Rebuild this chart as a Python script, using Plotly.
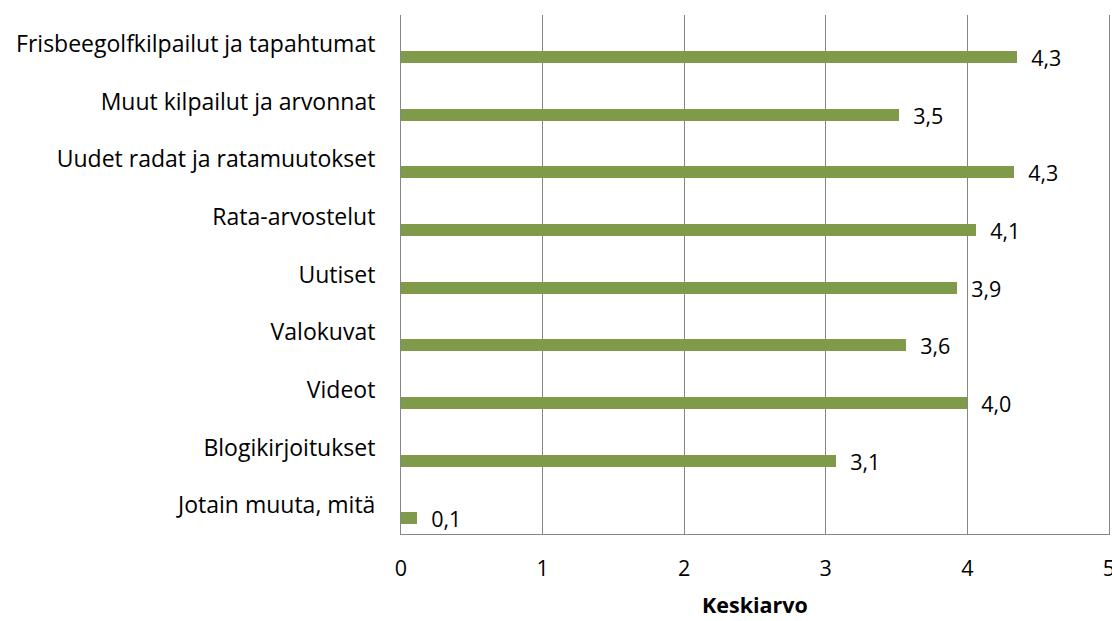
import plotly.graph_objects as go

# Categories, top to bottom as shown
categories = [
    "Frisbeegolfkilpailut ja tapahtumat",
    "Muut kilpailut ja arvonnat",
    "Uudet radat ja ratamuutokset",
    "Rata-arvostelut",
    "Uutiset",
    "Valokuvat",
    "Videot",
    "Blogikirjoitukset",
    "Jotain muuta, mitä",
]
means = [4.35, 3.52, 4.33, 4.06, 3.93, 3.57, 4.00, 3.07, 0.11]
x_ticks = [0, 1, 2, 3, 4, 5]

FONT = "Open Sans"
FONT_SIZE = 23
BAR_COLOR = "#7F9A48"
GRID_COLOR = "#868686"

fig = go.Figure()
fig.add_trace(go.Bar(
    x=means,
    y=categories,
    orientation="h",
    marker=dict(color=BAR_COLOR, line=dict(width=0)),
    width=0.21,
    offset=0.125,
    texttemplate="\u00a0\u00a0%{x:.1f}",
    textposition="outside",
    constraintext="none",
    textfont=dict(family=FONT, size=21.5, color="#000000"),
    cliponaxis=False,
    showlegend=False,
))

fig.update_layout(
    width=1112,
    height=621,
    separators=",.",
    plot_bgcolor="white",
    paper_bgcolor="white",
    font=dict(family=FONT, size=FONT_SIZE, color="#000000"),
    margin=dict(l=401, r=3, t=15, b=87),
    bargap=0,
)
fig.update_xaxes(
    range=[0, 5.001],
    tickvals=x_ticks,
    showgrid=True,
    gridcolor=GRID_COLOR,
    gridwidth=1,
    zeroline=False,
    showline=True,
    linecolor=GRID_COLOR,
    linewidth=1,
    ticks="",
    tickfont=dict(size=21.5),
    ticklabelstandoff=15,
    ticklabeloverflow="allow",
    automargin=False,
    title=dict(text="<b>Keskiarvo</b>", font=dict(family=FONT, size=21.5), standoff=17),
)
fig.update_yaxes(
    categoryorder="array",
    categoryarray=categories,
    range=[8.5, -0.5],
    showgrid=False,
    zeroline=False,
    showline=True,
    mirror=True,
    linecolor=GRID_COLOR,
    linewidth=1,
    ticks="",
    ticklabelstandoff=20,
)

fig.write_html(
    "out.html",
    config={"displayModeBar": False},
    post_script="document.body.style.margin='0';",
)
